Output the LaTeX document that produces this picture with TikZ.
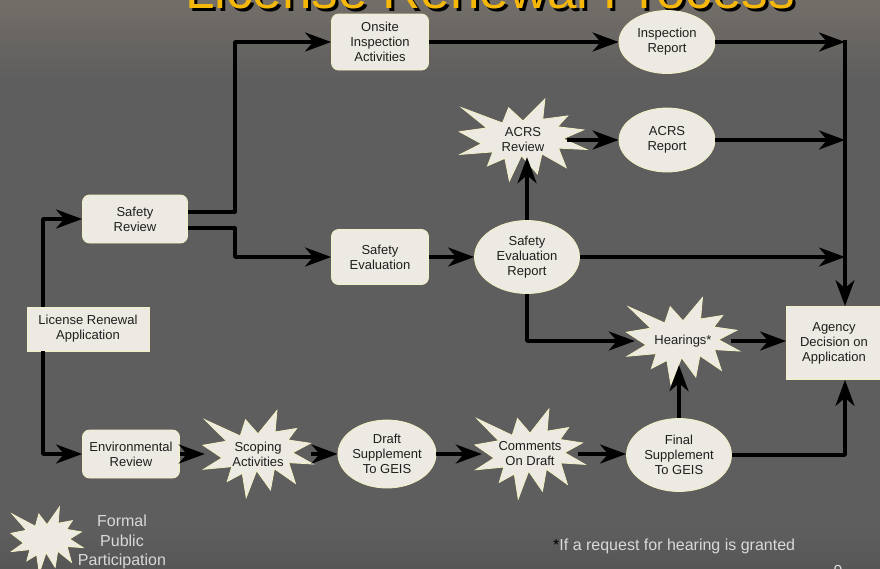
\documentclass[tikz,border=0pt]{standalone}
\usepackage{fontspec}
\setmainfont{Liberation Sans}
\usetikzlibrary{arrows.meta,shapes.geometric}

\definecolor{bgmain}{HTML}{5E5E5E}
\definecolor{bgtop}{HTML}{736E68}
\definecolor{bgbot}{HTML}{565656}
\definecolor{boxfill}{HTML}{ECEAE2}
\definecolor{boxline}{HTML}{F3F0C4}
\definecolor{ink}{HTML}{1E1E1E}
\definecolor{soft}{HTML}{D9D9D9}
\definecolor{titlegold}{HTML}{F5B80A}

\tikzset{
  lbl/.style={font=\fontsize{13}{15}\selectfont, text=ink, align=center},
  boxbase/.style={lbl, fill=boxfill, draw=boxline, line width=0.8pt, inner sep=0pt},
  squarebox/.style={boxbase, rectangle},
  roundbox/.style={boxbase, rectangle, rounded corners=7pt},
  oval/.style={boxbase, ellipse},
  burstnode/.style={lbl, rectangle, inner sep=0pt},
  seal/.style={fill=boxfill, draw=boxline, line width=0.8pt, line join=miter},
  conn/.style={line width=3.5pt, draw=black, line join=round,
    -{Stealth[length=26pt,width=19pt,inset=8pt]}},
  titletext/.style={anchor=base west, inner sep=0pt, font=\fontsize{53}{53}\selectfont},
}

% explosion outline in a 216 x 216 box, scaled to w x h around (cx,cy)
% #1 name, #2 cx, #3 cy, #4 w, #5 h, #6 node width, #7 node height, #8 text
\newcommand\burst[8]{%
  \begin{scope}[shift={({#2-#4/2},{#3-#5/2})}, xscale={#4/216}, yscale={#5/216}]
    \path[seal] (108,58) -- (145.22,0) -- (141.55,53.25) -- (183.8,44.57)
      -- (167.02,73.15) -- (210.97,81.37) -- (176.07,104.75) -- (216,132.9)
      -- (168.37,129.42) -- (181.45,180.95) -- (140.2,144.57) -- (132.47,197.37)
      -- (105.32,149.35) -- (84.85,216) -- (77.15,156.27) -- (47.62,176.17)
      -- (56.67,139.37) -- (1.35,145.87) -- (37.22,117.75) -- (0,86.15)
      -- (46.27,76.17) -- (3.7,22.95) -- (73.12,63.2) -- (83.52,22.95) -- cycle;
  \end{scope}
  \node[burstnode, minimum width=#6pt, minimum height=#7pt] (#1) at (#2,#3) {#8};
}

\begin{document}
\begin{tikzpicture}[x=1pt,y=-1pt]
  \useasboundingbox (0,0) rectangle (880,568);
  \clip (0,0) rectangle (880,568);

  % background
  \fill[bgmain] (0,0) rectangle (880,568);
  \shade[top color=bgtop, bottom color=bgmain] (0,0) rectangle (880,80);
  \shade[top color=bgmain, bottom color=bgbot] (0,530) rectangle (880,568);

  % title
  \node[titletext, text=black] (titleshadow) at (188,11) {License Renewal Process};
  \node[titletext, text=titlegold] (title) at (185,8) {License Renewal Process};

  % boxes and ovals
  \node[squarebox, minimum width=122pt, minimum height=44pt] (lra) at (88,329) {License Renewal\\Application};
  \node[roundbox, minimum width=105pt, minimum height=48pt] (sr) at (135,219) {Safety\\Review};
  \node[roundbox, minimum width=97pt, minimum height=48pt] (er) at (131,454) {Environmental\\Review};
  \node[roundbox, minimum width=97pt, minimum height=56pt] (osi) at (380,42) {Onsite\\Inspection\\Activities};
  \node[roundbox, minimum width=97pt, minimum height=55pt] (se) at (380,257) {Safety\\Evaluation};
  \node[oval, minimum width=96pt, minimum height=63pt] (ir) at (667,42) {Inspection\\Report};
  \node[oval, minimum width=96pt, minimum height=64pt] (acrsr) at (667,140) {ACRS\\Report};
  \node[oval, minimum width=105pt, minimum height=73pt] (ser) at (527,257) {Safety\\Evaluation\\Report};
  \node[oval, minimum width=97pt, minimum height=68pt] (draft) at (387,454) {Draft\\Supplement\\To GEIS};
  \node[oval, minimum width=105pt, minimum height=73pt] (fin) at (679,455) {Final\\Supplement\\To GEIS};
  \node[squarebox, minimum width=95pt, minimum height=73pt] (agency) at (834,343) {Agency\\Decision on\\Application};

  % public participation steps
  \burst{acrsb}{523}{140}{127}{82}{88}{34}{ACRS\\Review}
  \burst{hear}{683}{341}{113}{87}{96}{48}{Hearings*}
  \burst{scop}{258}{454}{110}{87}{106}{40}{Scoping\\Activities}
  \burst{com}{530}{454}{110}{90}{96}{40}{Comments\\On Draft}

  % collecting rail in front of the decision box
  \coordinate (rail) at (845,0);

  % connectors
  \draw[conn] ([xshift=-45pt]lra.north) |- (sr.west);
  \draw[conn] ([xshift=-45pt]lra.south) |- (er.west);
  \draw[conn] ([yshift=7pt]sr.east) -- ++(47,0) |- (osi.west);
  \draw[conn] ([yshift=-9pt]sr.east) -- ++(47,0) |- (se.west);
  \draw[conn] (osi.east) -- (ir.west);
  \draw[conn] (se.east) -- (ser.west);
  \draw[conn] (ser.north) -- (ser.north |- acrsb.south);
  \draw[conn] (acrsb.east) -- (acrsr.west);
  \draw[conn] (ir.east) -- (ir.east -| rail);
  \draw[conn] (acrsr.east) -- (acrsr.east -| rail);
  \draw[conn] (ser.east) -- (ser.east -| rail);
  \draw[conn] ([yshift=1.75pt]ir.east -| rail) -- (rail |- agency.north);
  \draw[conn] (ser.south) |- (hear.west);
  \draw[conn] (hear.east) -- (agency.west |- hear.east);
  \draw[conn] (er.east) -- (er.east -| scop.west);
  \draw[conn] (scop.east) -- (scop.east -| draft.west);
  \draw[conn] (draft.east) -- (draft.east -| com.west);
  \draw[conn] (com.east) -- (com.east -| fin.west);
  \draw[conn] (fin.north) -- (fin.north |- hear.south);
  \draw[conn] (fin.east) -| (rail |- agency.south);

  % legend
  \burst{legend}{47}{540}{72}{66}{10}{10}{}
  \node[font=\fontsize{16}{19.5}\selectfont, text=soft, align=center] (legendtext) at (122,542) {Formal\\Public\\Participation};

  % footnote and page number
  \node[anchor=base west, inner sep=0pt, font=\fontsize{16}{18}\selectfont, text=soft] (note) at (553,550) {\textcolor{black}{*}If a request for hearing is granted};
  \node[anchor=north, inner sep=0pt, font=\fontsize{16}{18}\selectfont, text=soft] (pagenum) at (838,565) {9};
\end{tikzpicture}
\end{document}
